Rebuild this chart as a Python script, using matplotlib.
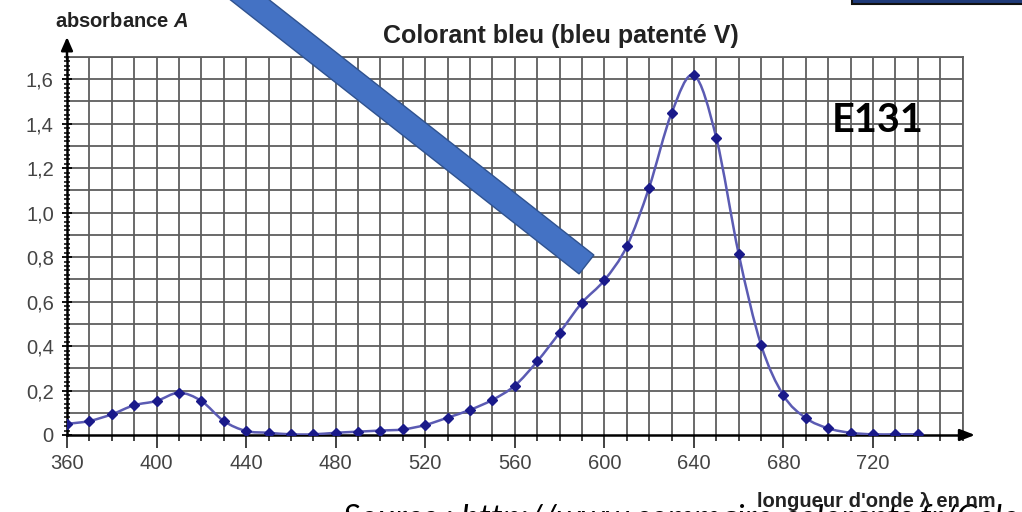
import numpy as np
import matplotlib
matplotlib.use('Agg')
import matplotlib.pyplot as plt
from matplotlib.path import Path
from matplotlib.patches import PathPatch, Polygon, Rectangle
from matplotlib.ticker import MultipleLocator, FixedLocator

# ---------------- data ----------------
wavelength_nm = [360, 370, 380, 390, 400, 410, 420, 430, 440, 450,
                 460, 470, 480, 490, 500, 510, 520, 530, 540, 550,
                 560, 570, 580, 590, 600, 610, 620, 630, 640, 650,
                 660, 670, 680, 690, 700, 710, 720, 730, 740]
absorbance = [0.050, 0.063, 0.093, 0.134, 0.153, 0.190, 0.153, 0.063, 0.018, 0.010,
              0.003, 0.003, 0.010, 0.015, 0.020, 0.025, 0.045, 0.078, 0.113, 0.158,
              0.222, 0.331, 0.460, 0.595, 0.696, 0.848, 1.113, 1.447, 1.618, 1.336,
              0.814, 0.405, 0.178, 0.076, 0.030, 0.010, 0.003, 0.003, 0.003]
x_tick_values = [360, 400, 440, 480, 520, 560, 600, 640, 680, 720]
x_tick_labels = ['360', '400', '440', '480', '520', '560', '600', '640', '680', '720']
y_tick_values = [0, 0.2, 0.4, 0.6, 0.8, 1.0, 1.2, 1.4, 1.6]
y_tick_labels = ['0', '0,2', '0,4', '0,6', '0,8', '1,0', '1,2', '1,4', '1,6']
title_text = 'Colorant bleu (bleu patenté V)'
y_label_text = 'absorbance $\\mathbfit{A}$'
x_label_text = "longueur d'onde λ en nm"
badge_text = 'E131'
source_text = 'Source : http://www.sommaire-colorants.fr/Colorant-E131.aspx'

# ---------------- figure ----------------
W, H = 1022, 512
fig = plt.figure(figsize=(W / 100, H / 100), dpi=100)
fig.patch.set_facecolor('white')


def fx(px):
    return px / W


def fy(py):
    return 1 - py / H


plt.rcParams['font.family'] = ['Liberation Sans', 'DejaVu Sans']
plt.rcParams['mathtext.fontset'] = 'custom'
plt.rcParams['mathtext.bfit'] = 'Liberation Sans:italic:bold'

ax_left, ax_right, ax_top, ax_bottom = 67, 962.6, 57, 435
ax = fig.add_axes([fx(ax_left), fy(ax_bottom), (ax_right - ax_left) / W,
                   (ax_bottom - ax_top) / H])
ax.set_xlim(360, 760)
ax.set_ylim(0, 1.7)

grid_color = '#5e5e5e'
# grid lines every 10 nm and every 0.1
ax.vlines(np.arange(370, 761, 10), 0, 1.7, color=grid_color, lw=1.3, zorder=1)
ax.hlines(np.arange(0.1, 1.71, 0.1), 360, 760, color=grid_color, lw=1.3, zorder=1)

for side in ['top', 'right']:
    ax.spines[side].set_color(grid_color)
    ax.spines[side].set_linewidth(1.3)
for side in ['left', 'bottom']:
    ax.spines[side].set_color('black')
    ax.spines[side].set_linewidth(1.8)
    ax.spines[side].set_zorder(3)

# ticks
ax.xaxis.set_major_locator(FixedLocator(x_tick_values))
ax.set_xticklabels(x_tick_labels)
ax.xaxis.set_minor_locator(MultipleLocator(10))
ax.yaxis.set_major_locator(FixedLocator(y_tick_values))
ax.set_yticklabels(y_tick_labels)
ax.yaxis.set_minor_locator(MultipleLocator(0.02))

ax.tick_params(axis='x', which='major', direction='out', length=9, width=1.3,
               color='#333333', labelsize=14.5, labelcolor='#444444', pad=5)
ax.tick_params(axis='x', which='minor', direction='out', length=4, width=1.3,
               color='#333333')
ax.tick_params(axis='y', which='major', direction='inout', length=7, width=1.3,
               color='black', labelsize=14.5, labelcolor='#444444', pad=6)
ax.tick_params(axis='y', which='minor', direction='inout', length=5, width=1.1,
               color='black')

# smooth curve through the points (Catmull-Rom as cubic Bezier)
pts = np.column_stack([wavelength_nm, absorbance]).astype(float)
ext = np.vstack([pts[0], pts, pts[-1]])
verts = [tuple(pts[0])]
codes = [Path.MOVETO]
for i in range(1, len(ext) - 2):
    p0, p1, p2, p3 = ext[i - 1], ext[i], ext[i + 1], ext[i + 2]
    c1 = p1 + (p2 - p0) / 6.0
    c2 = p2 - (p3 - p1) / 6.0
    verts += [tuple(c1), tuple(c2), tuple(p2)]
    codes += [Path.CURVE4, Path.CURVE4, Path.CURVE4]
curve = PathPatch(Path(verts, codes), facecolor='none', edgecolor='#5b5bb3',
                  lw=1.8, zorder=4)
ax.add_patch(curve)
ax.plot(wavelength_nm, absorbance, linestyle='none', marker='D', markersize=5,
        color='#1a1a8a', zorder=5)

# axis arrows
ax.annotate('', xy=(fx(975), fy(ax_bottom)), xycoords='figure fraction',
            xytext=(fx(ax_right - 2), fy(ax_bottom)), textcoords='figure fraction',
            arrowprops=dict(arrowstyle='-|>,head_length=0.9,head_width=0.35',
                            color='black', lw=1.8, shrinkA=0, shrinkB=0))
ax.annotate('', xy=(fx(ax_left), fy(37)), xycoords='figure fraction',
            xytext=(fx(ax_left), fy(ax_top + 2)), textcoords='figure fraction',
            arrowprops=dict(arrowstyle='-|>,head_length=0.8,head_width=0.35',
                            color='black', lw=1.8, shrinkA=0, shrinkB=0))

# texts
fig.text(fx(561), fy(36), title_text, ha='center', va='center', fontsize=18,
         fontweight='bold', color='#222222')
fig.text(fx(55), fy(27), y_label_text, ha='left', va='baseline', fontsize=14.5,
         fontweight='bold', color='#222222')
fig.text(fx(757), fy(507), x_label_text, ha='left', va='baseline', fontsize=14.5,
         fontweight='bold', color='#222222', zorder=3)
fig.text(fx(832), fy(132), badge_text, ha='left', va='baseline', fontsize=28.5,
         fontweight='bold', family='Lato', color='black')
fig.text(fx(343), fy(528), source_text, ha='left', va='baseline', fontsize=24,
         style='italic', family='Lato', color='black', zorder=0)

# diagonal blue bar (overlay shape)
p_start = np.array([250.0, 0.0])
p_end = np.array([586.5, 264.5])
d = (p_end - p_start) / np.linalg.norm(p_end - p_start)
p_start = p_start - d * 40
n = np.array([-d[1], d[0]])
half_w = 12
corners_px = [p_start + n * half_w, p_end + n * half_w,
              p_end - n * half_w, p_start - n * half_w]
corners = [(fx(c[0]), fy(c[1])) for c in corners_px]
fig.patches.append(Polygon(corners, closed=True, transform=fig.transFigure,
                           facecolor='#4472C4', edgecolor='#2F528F', lw=1.0,
                           zorder=10))

# dark box at top right (cut off)
fig.patches.append(Rectangle((fx(852), fy(4)), fx(200), fx(40),
                             transform=fig.transFigure, facecolor='#1F3A78',
                             edgecolor='#111111', lw=1.5, zorder=10))

fig.savefig('out.png', dpi=100, facecolor='white')
